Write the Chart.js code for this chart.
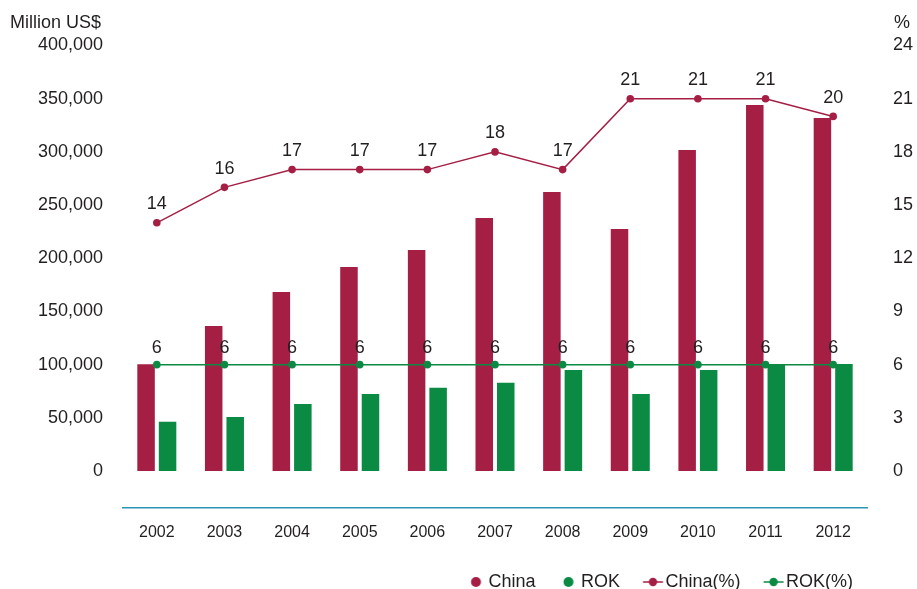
<!DOCTYPE html>
<html>
<head>
<meta charset="utf-8">
<title>China and ROK trade, 2002-2012</title>
<script src="https://cdn.jsdelivr.net/npm/chart.js@4/dist/chart.umd.min.js"></script>
<style>
  html, body { margin: 0; padding: 0; background: #ffffff; }
  canvas { display: block; }
</style>
</head>
<body>
<canvas id="chart" width="917" height="589"></canvas>
<script>
// ---- data ----
const years = ['2002', '2003', '2004', '2005', '2006', '2007', '2008', '2009', '2010', '2011', '2012'];
const chinaTrade = [100300, 136300, 168200, 191700, 207700, 237800, 262200, 227400, 301700, 344000, 331800];
const rokTrade = [46300, 50800, 63000, 72400, 78300, 83000, 95000, 72400, 95000, 100300, 100600];
const chinaShare = [14, 16, 17, 17, 17, 18, 17, 21, 21, 21, 20];
const rokShare = [6, 6, 6, 6, 6, 6, 6, 6, 6, 6, 6];
const valueTicks = [0, 50000, 100000, 150000, 200000, 250000, 300000, 350000, 400000];
const shareTicks = [0, 3, 6, 9, 12, 15, 18, 21, 24];
const seriesNames = ['China', 'ROK', 'China(%)', 'ROK(%)'];
const valueUnit = 'Million US$';
const shareUnit = '%';

// ---- style ----
const CRIMSON = '#A51F45';
const GREEN = '#0B8A44';
const AXIS_BLUE = '#2E93B6';
const TEXT = '#231F20';
const FONT = "'Liberation Sans', Arial, Helvetica, sans-serif";

// The baseline rule sits 37px under the zero line; 425.5px separate zero from the top tick.
const dropRatio = 37 / 425.5;
const valueMax = valueTicks[valueTicks.length - 1];
const shareMax = shareTicks[shareTicks.length - 1];

// Legend symbols: a dot for the bar series, a dot on a short line for the line series.
function legendMarker(color, withLine) {
  const c = document.createElement('canvas');
  c.width = 40; c.height = 14;
  const g = c.getContext('2d');
  const cx = 27.75, cy = 7;
  g.fillStyle = color;
  g.strokeStyle = color;
  if (withLine) {
    g.lineWidth = 1.5;
    g.beginPath(); g.moveTo(cx - 10, cy); g.lineTo(cx + 10, cy); g.stroke();
    g.beginPath(); g.arc(cx, cy, 4.2, 0, Math.PI * 2); g.fill();
  } else {
    g.beginPath(); g.arc(cx, cy, 5, 0, Math.PI * 2); g.fill();
  }
  return c;
}

// Value labels above each point of the line series.
const pointLabels = {
  id: 'pointLabels',
  afterDatasetsDraw(chart) {
    const ctx = chart.ctx;
    ctx.save();
    ctx.font = '18px ' + FONT;
    ctx.fillStyle = TEXT;
    ctx.textAlign = 'center';
    ctx.textBaseline = 'alphabetic';
    chart.data.datasets.forEach((ds, i) => {
      if (ds.type !== 'line') return;
      const meta = chart.getDatasetMeta(i);
      meta.data.forEach((pt, j) => {
        ctx.fillText(String(ds.data[j]), pt.x, pt.y - ds.labelLift);
      });
    });
    ctx.restore();
  }
};

// Unit captions over both value axes.
const unitCaptions = {
  id: 'unitCaptions',
  afterDraw(chart) {
    const ctx = chart.ctx;
    ctx.save();
    ctx.font = '18px ' + FONT;
    ctx.fillStyle = TEXT;
    ctx.textBaseline = 'alphabetic';
    ctx.textAlign = 'left';
    ctx.fillText(valueUnit, 10, 28);
    ctx.fillText(shareUnit, chart.chartArea.right + 27, 28);
    ctx.restore();
  }
};

new Chart(document.getElementById('chart'), {
  type: 'bar',
  data: {
    labels: years,
    datasets: [
      {
        label: seriesNames[0], data: chinaTrade, yAxisID: 'yValue',
        backgroundColor: CRIMSON, borderWidth: 0, order: 2,
        categoryPercentage: 0.636, barPercentage: 0.814
      },
      {
        label: seriesNames[1], data: rokTrade, yAxisID: 'yValue',
        backgroundColor: GREEN, borderWidth: 0, order: 2,
        categoryPercentage: 0.636, barPercentage: 0.814
      },
      {
        type: 'line', label: seriesNames[2], data: chinaShare, yAxisID: 'yShare',
        borderColor: CRIMSON, backgroundColor: CRIMSON, borderWidth: 1.5,
        pointRadius: 3.8, pointBorderWidth: 0, pointBackgroundColor: CRIMSON,
        tension: 0, order: 1, labelLift: 13.5
      },
      {
        type: 'line', label: seriesNames[3], data: rokShare, yAxisID: 'yShare',
        borderColor: GREEN, backgroundColor: GREEN, borderWidth: 1.5,
        pointRadius: 3.8, pointBorderWidth: 0, pointBackgroundColor: GREEN,
        tension: 0, order: 1, labelLift: 12
      }
    ]
  },
  options: {
    responsive: false,
    animation: false,
    devicePixelRatio: 1,
    layout: { padding: { top: 45.5, left: 0, right: 0, bottom: 0 } },
    plugins: {
      tooltip: { enabled: false },
      legend: {
        position: 'bottom',
        align: 'end',
        fullSize: false,
        maxHeight: 30,
        labels: {
          usePointStyle: true,
          pointStyleWidth: 22.5,
          padding: 14,
          color: TEXT,
          font: { size: 18, family: FONT },
          generateLabels(chart) {
            return chart.data.datasets.map((ds, i) => ({
              text: ds.label,
              pointStyle: legendMarker(ds.backgroundColor, ds.type === 'line'),
              fillStyle: ds.backgroundColor,
              strokeStyle: ds.backgroundColor,
              lineWidth: 0,
              hidden: false,
              datasetIndex: i,
              fontColor: TEXT
            }));
          }
        }
      }
    },
    scales: {
      x: {
        grid: { display: false, drawTicks: false },
        border: { display: true, color: AXIS_BLUE, width: 1.5 },
        ticks: { color: TEXT, font: { size: 16, family: FONT }, padding: 15, maxRotation: 0 },
        afterFit(scale) { scale.height = 51; }
      },
      yValue: {
        position: 'left',
        min: -valueMax * dropRatio,
        max: valueMax,
        grid: { display: false, drawTicks: false },
        border: { display: false },
        ticks: {
          color: TEXT, font: { size: 18, family: FONT }, padding: 20,
          callback: (v) => Number(v).toLocaleString('en-US')
        },
        afterBuildTicks(scale) { scale.ticks = valueTicks.map((v) => ({ value: v })); },
        afterFit(scale) { scale.width = 123; }
      },
      yShare: {
        position: 'right',
        min: -shareMax * dropRatio,
        max: shareMax,
        grid: { display: false, drawTicks: false },
        border: { display: false },
        ticks: { color: TEXT, font: { size: 18, family: FONT }, padding: 26 },
        afterBuildTicks(scale) { scale.ticks = shareTicks.map((v) => ({ value: v })); },
        afterFit(scale) { scale.width = 50; }
      }
    }
  },
  plugins: [pointLabels, unitCaptions]
});
</script>
</body>
</html>
